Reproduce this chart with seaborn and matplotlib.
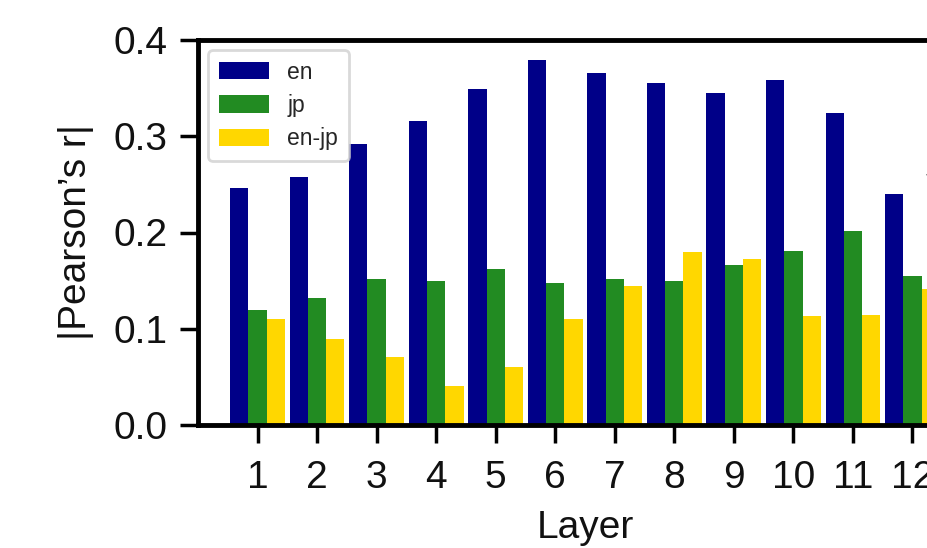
import matplotlib
matplotlib.use("Agg")
import matplotlib.pyplot as plt
import seaborn as sns
import pandas as pd

layers = ["1", "2", "3", "4", "5", "6", "7", "8", "9", "10", "11", "12"]
en = [0.246, 0.258, 0.292, 0.316, 0.349, 0.379, 0.366, 0.355, 0.345, 0.358, 0.324, 0.240]
jp = [0.120, 0.132, 0.152, 0.150, 0.162, 0.148, 0.152, 0.150, 0.166, 0.181, 0.202, 0.155]
en_jp = [0.110, 0.089, 0.071, 0.041, 0.060, 0.110, 0.144, 0.180, 0.172, 0.113, 0.114, 0.141]
series_names = ["en", "jp", "en-jp"]
series_colors = ["#000088", "#228B22", "#FFD700"]
y_ticks = [0.0, 0.1, 0.2, 0.3, 0.4]

rows = []
for name, vals in zip(series_names, [en, jp, en_jp]):
    for lay, v in zip(layers, vals):
        rows.append({"Layer": lay, "series": name, "r": v})
df = pd.DataFrame(rows)

sns.set_theme(style="white")
plt.rcParams["font.family"] = ["Liberation Sans", "DejaVu Sans"]

fig = plt.figure(figsize=(9.27, 5.48), dpi=100)
ax = fig.add_axes([198 / 927, 123 / 548, 774 / 927, 385 / 548])

sns.barplot(data=df, x="Layer", y="r", hue="series", order=layers,
            hue_order=series_names, palette=series_colors, width=0.92,
            gap=0, linewidth=0, saturation=1, ax=ax, errorbar=None)

ax.set_xlim(-1, len(layers))
ax.set_ylim(0, 0.4)
ax.set_yticks(y_ticks)
ax.set_yticklabels([f"{t:.1f}" for t in y_ticks])

for s in ["left", "top", "bottom"]:
    ax.spines[s].set_linewidth(3.5)
    ax.spines[s].set_color("black")
ax.spines["right"].set_visible(False)

ax.tick_params(axis="both", which="major", direction="out", length=13,
               width=2.5, color="black", labelsize=28, labelcolor="#111111",
               bottom=True, left=True)
ax.tick_params(axis="y", pad=9)
ax.tick_params(axis="x", pad=12)

ax.set_xlabel("Layer", fontsize=28, labelpad=10, color="#111111")
ax.set_ylabel("|Pearson’s r|", fontsize=28, labelpad=14, color="#111111")

leg = ax.legend(loc="upper left", fontsize=16.5, frameon=True, fancybox=True,
                handlelength=2.2, handleheight=0.8, handletextpad=0.8,
                labelspacing=0.45, borderpad=0.45, borderaxespad=0.45)
frame = leg.get_frame()
frame.set_edgecolor("#d0d0d0")
frame.set_linewidth(2.0)
leg.set_title(None)

ax.annotate("", xy=(11.17, 0.26), xytext=(12.5, 0.26),
            arrowprops=dict(arrowstyle="-|>", color="black", lw=1.5,
                            mutation_scale=14),
            annotation_clip=False)

fig.savefig("out.png", dpi=100)
